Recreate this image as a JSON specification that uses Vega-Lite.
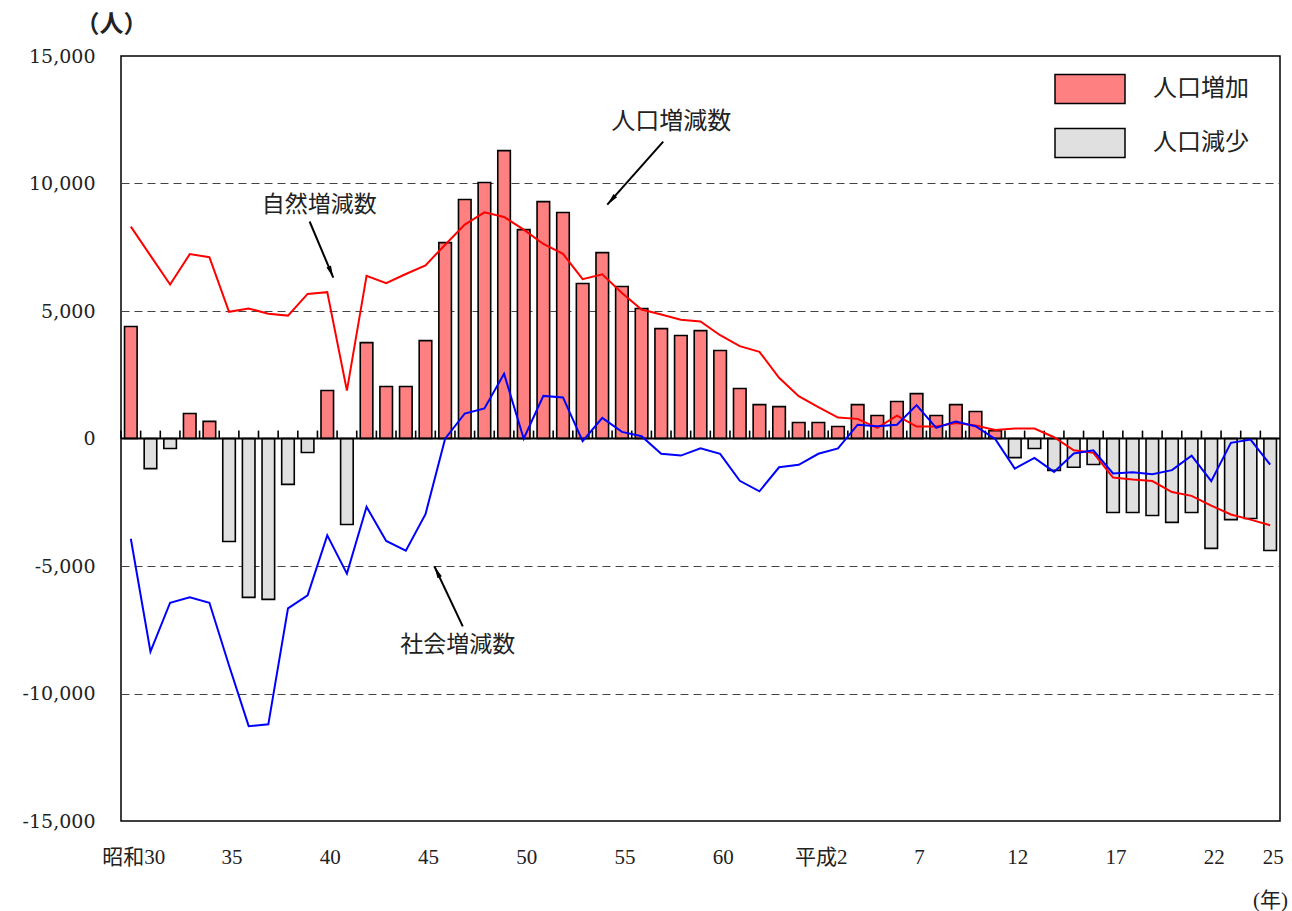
{
  "$schema": "https://vega.github.io/schema/vega-lite/v6.json",
  "width": 1159,
  "height": 765,
  "autosize": "none",
  "padding": {"left": 121, "top": 56, "right": 12, "bottom": 90},
  "background": "white",
  "config": {
    "view": {"stroke": "black", "strokeWidth": 1.5},
    "font": "Liberation Serif, Noto Sans CJK JP",
    "text": {"font": "Noto Sans CJK JP"}
  },
  "datasets": {
    "pop": [
      {"year": 1955, "total": 4390, "natural": 8310, "social": -3930, "sign": "人口増加"},
      {"year": 1956, "total": -1180, "natural": 7170, "social": -8360, "sign": "人口減少"},
      {"year": 1957, "total": -390, "natural": 6040, "social": -6440, "sign": "人口減少"},
      {"year": 1958, "total": 980, "natural": 7230, "social": -6230, "sign": "人口増加"},
      {"year": 1959, "total": 670, "natural": 7110, "social": -6440, "sign": "人口増加"},
      {"year": 1960, "total": -4040, "natural": 4970, "social": -8900, "sign": "人口減少"},
      {"year": 1961, "total": -6230, "natural": 5100, "social": -11280, "sign": "人口減少"},
      {"year": 1962, "total": -6310, "natural": 4890, "social": -11210, "sign": "人口減少"},
      {"year": 1963, "total": -1800, "natural": 4820, "social": -6660, "sign": "人口減少"},
      {"year": 1964, "total": -550, "natural": 5670, "social": -6150, "sign": "人口減少"},
      {"year": 1965, "total": 1880, "natural": 5740, "social": -3800, "sign": "人口増加"},
      {"year": 1966, "total": -3370, "natural": 1880, "social": -5300, "sign": "人口減少"},
      {"year": 1967, "total": 3760, "natural": 6380, "social": -2680, "sign": "人口増加"},
      {"year": 1968, "total": 2040, "natural": 6090, "social": -4020, "sign": "人口増加"},
      {"year": 1969, "total": 2040, "natural": 6450, "social": -4400, "sign": "人口増加"},
      {"year": 1970, "total": 3840, "natural": 6790, "social": -2970, "sign": "人口増加"},
      {"year": 1971, "total": 7680, "natural": 7600, "social": -10, "sign": "人口増加"},
      {"year": 1972, "total": 9370, "natural": 8390, "social": 980, "sign": "人口増加"},
      {"year": 1973, "total": 10040, "natural": 8870, "social": 1180, "sign": "人口増加"},
      {"year": 1974, "total": 11290, "natural": 8690, "social": 2540, "sign": "人口増加"},
      {"year": 1975, "total": 8190, "natural": 8190, "social": -10, "sign": "人口増加"},
      {"year": 1976, "total": 9290, "natural": 7630, "social": 1670, "sign": "人口増加"},
      {"year": 1977, "total": 8860, "natural": 7240, "social": 1610, "sign": "人口増加"},
      {"year": 1978, "total": 6080, "natural": 6250, "social": -100, "sign": "人口増加"},
      {"year": 1979, "total": 7290, "natural": 6440, "social": 810, "sign": "人口増加"},
      {"year": 1980, "total": 5960, "natural": 5710, "social": 260, "sign": "人口増加"},
      {"year": 1981, "total": 5100, "natural": 5060, "social": 90, "sign": "人口増加"},
      {"year": 1982, "total": 4310, "natural": 4860, "social": -600, "sign": "人口増加"},
      {"year": 1983, "total": 4040, "natural": 4660, "social": -670, "sign": "人口増加"},
      {"year": 1984, "total": 4230, "natural": 4590, "social": -380, "sign": "人口増加"},
      {"year": 1985, "total": 3450, "natural": 4050, "social": -600, "sign": "人口増加"},
      {"year": 1986, "total": 1960, "natural": 3620, "social": -1660, "sign": "人口増加"},
      {"year": 1987, "total": 1330, "natural": 3400, "social": -2070, "sign": "人口増加"},
      {"year": 1988, "total": 1250, "natural": 2380, "social": -1130, "sign": "人口増加"},
      {"year": 1989, "total": 630, "natural": 1660, "social": -1030, "sign": "人口増加"},
      {"year": 1990, "total": 630, "natural": 1230, "social": -600, "sign": "人口増加"},
      {"year": 1991, "total": 470, "natural": 820, "social": -390, "sign": "人口増加"},
      {"year": 1992, "total": 1330, "natural": 770, "social": 540, "sign": "人口増加"},
      {"year": 1993, "total": 900, "natural": 420, "social": 480, "sign": "人口増加"},
      {"year": 1994, "total": 1450, "natural": 900, "social": 540, "sign": "人口増加"},
      {"year": 1995, "total": 1760, "natural": 470, "social": 1310, "sign": "人口増加"},
      {"year": 1996, "total": 900, "natural": 470, "social": 420, "sign": "人口増加"},
      {"year": 1997, "total": 1330, "natural": 610, "social": 670, "sign": "人口増加"},
      {"year": 1998, "total": 1060, "natural": 510, "social": 480, "sign": "人口増加"},
      {"year": 1999, "total": 310, "natural": 330, "social": -20, "sign": "人口増加"},
      {"year": 2000, "total": -750, "natural": 390, "social": -1180, "sign": "人口減少"},
      {"year": 2001, "total": -390, "natural": 390, "social": -760, "sign": "人口減少"},
      {"year": 2002, "total": -1250, "natural": 50, "social": -1310, "sign": "人口減少"},
      {"year": 2003, "total": -1130, "natural": -460, "social": -590, "sign": "人口減少"},
      {"year": 2004, "total": -1020, "natural": -560, "social": -460, "sign": "人口減少"},
      {"year": 2005, "total": -2900, "natural": -1530, "social": -1370, "sign": "人口減少"},
      {"year": 2006, "total": -2900, "natural": -1610, "social": -1320, "sign": "人口減少"},
      {"year": 2007, "total": -3020, "natural": -1670, "social": -1400, "sign": "人口減少"},
      {"year": 2008, "total": -3290, "natural": -2100, "social": -1240, "sign": "人口減少"},
      {"year": 2009, "total": -2900, "natural": -2250, "social": -670, "sign": "人口減少"},
      {"year": 2010, "total": -4310, "natural": -2630, "social": -1670, "sign": "人口減少"},
      {"year": 2011, "total": -3180, "natural": -2980, "social": -170, "sign": "人口減少"},
      {"year": 2012, "total": -3140, "natural": -3180, "social": -40, "sign": "人口減少"},
      {"year": 2013, "total": -4390, "natural": -3400, "social": -1020, "sign": "人口減少"}
    ]
  },
  "resolve": {"scale": {"x": "shared", "y": "shared"}},
  "layer": [
    {
      "data": {"name": "pop"},
      "mark": {"type": "bar", "width": {"band": 0.64}, "stroke": "black", "strokeWidth": 1.6},
      "encoding": {
        "x": {
          "field": "year", "type": "ordinal",
          "scale": {"paddingInner": 0, "paddingOuter": 0},
          "axis": {
            "values": [1955, 1960, 1965, 1970, 1975, 1980, 1985, 1990, 1995, 2000, 2005, 2010, 2013],
            "labelExpr": "datum.value == 1955 ? '昭和30' : datum.value == 1990 ? '平成2' : datum.value < 1989 ? '' + (datum.value - 1925) : '' + (datum.value - 1988)",
            "labelAngle": 0,
            "labelFont": "Liberation Serif, Noto Sans CJK JP",
            "labelFontSize": 21,
            "labelColor": "#222",
            "labelPadding": 25,
            "labelOffset": 3,
            "domain": false,
            "ticks": false,
            "grid": false,
            "title": "(年)",
            "titleFont": "Liberation Serif, Noto Sans CJK JP",
            "titleFontSize": 21,
            "titleFontWeight": "normal",
            "titleColor": "#222",
            "titleX": 1149,
            "titleY": 79,
            "titleAlign": "center",
            "titleBaseline": "middle"
          }
        },
        "y": {
          "field": "total", "type": "quantitative",
          "scale": {"domain": [-15000, 15000], "nice": false, "zero": false},
          "axis": {
            "values": [-15000, -10000, -5000, 0, 5000, 10000, 15000],
            "labelExpr": "replace(format(datum.value, ','), '\u2212', '-')",
            "labelFont": "DejaVu Serif",
            "labelFontSize": 19,
            "labelColor": "#222",
            "labelPadding": 26,
            "domain": false,
            "ticks": false,
            "grid": true,
            "gridDash": [8, 5],
            "gridColor": "#444",
            "gridWidth": 1,
            "gridOpacity": {"condition": {"test": "abs(datum.value) >= 15000 || datum.value == 0", "value": 0}, "value": 1},
            "title": "（人）",
            "titleAngle": 0,
            "titleFont": "Noto Sans CJK JP",
            "titleFontSize": 24,
            "titleFontWeight": "bold",
            "titleColor": "#222",
            "titleX": -10,
            "titleY": -32,
            "titleAlign": "center",
            "titleBaseline": "middle"
          }
        },
        "color": {
          "field": "sign", "type": "nominal",
          "scale": {"domain": ["人口増加", "人口減少"], "range": ["#FF8080", "#E0E0E0"]},
          "legend": {
            "title": null,
            "orient": "none",
            "legendX": 933,
            "legendY": -3,
            "direction": "vertical",
            "symbolType": "M-1,-0.414H1V0.414H-1Z",
            "symbolSize": 4900,
            "symbolStrokeColor": "black",
            "symbolStrokeWidth": 1.5,
            "symbolOpacity": 1,
            "labelFont": "Noto Sans CJK JP",
            "labelFontSize": 24,
            "labelColor": "#222",
            "labelOffset": 27,
            "rowPadding": -16,
            "padding": 0
          }
        }
      }
    },
    {
      "data": {"name": "pop"},
      "mark": {"type": "rule", "color": "black", "strokeWidth": 1.6},
      "encoding": {
        "x": {"field": "year", "type": "ordinal", "bandPosition": 0},
        "y": {"datum": 310},
        "y2": {"datum": 0}
      }
    },
    {
      "data": {"values": [{}]},
      "mark": {"type": "rule", "color": "black", "strokeWidth": 2.2},
      "encoding": {"y": {"datum": 0}}
    },
    {
      "data": {"name": "pop"},
      "mark": {"type": "line", "color": "#FF0000", "strokeWidth": 2},
      "encoding": {
        "x": {"field": "year", "type": "ordinal"},
        "y": {"field": "natural", "type": "quantitative"}
      }
    },
    {
      "data": {"name": "pop"},
      "mark": {"type": "line", "color": "#0000FF", "strokeWidth": 2},
      "encoding": {
        "x": {"field": "year", "type": "ordinal"},
        "y": {"field": "social", "type": "quantitative"}
      }
    },
    {
      "data": {"values": [{"year": 1982, "value": 12430, "label": "人口増減数"}]},
      "mark": {"type": "text", "font": "Noto Sans CJK JP", "fontSize": 24, "color": "#222", "dx": 10, "baseline": "middle", "align": "center"},
      "encoding": {
        "x": {"field": "year", "type": "ordinal"},
        "y": {"field": "value", "type": "quantitative"},
        "text": {"field": "label"}
      }
    },
    {
      "data": {"values": [{"year": 1965, "value": 9170, "label": "自然増減数"}]},
      "mark": {"type": "text", "font": "Noto Sans CJK JP", "fontSize": 23, "color": "#222", "dx": -8, "baseline": "middle", "align": "center"},
      "encoding": {
        "x": {"field": "year", "type": "ordinal"},
        "y": {"field": "value", "type": "quantitative"},
        "text": {"field": "label"}
      }
    },
    {
      "data": {"values": [{"year": 1972, "value": -8110, "label": "社会増減数"}]},
      "mark": {"type": "text", "font": "Noto Sans CJK JP", "fontSize": 23, "color": "#222", "dx": -7, "baseline": "middle", "align": "center"},
      "encoding": {
        "x": {"field": "year", "type": "ordinal"},
        "y": {"field": "value", "type": "quantitative"},
        "text": {"field": "label"}
      }
    },
    {
      "data": {"values": [{"x1": 1982, "y1": 11640, "x2": 1979, "y2": 9170}]},
      "layer": [
        {
          "mark": {"type": "rule", "color": "black", "strokeWidth": 2, "xOffset": 2, "x2Offset": 5},
          "encoding": {
            "x": {"field": "x1", "type": "ordinal"},
            "x2": {"field": "x2"},
            "y": {"field": "y1", "type": "quantitative"},
            "y2": {"field": "y2"}
          }
        },
        {
          "mark": {"type": "point", "shape": "M0,0L0.4,2L-0.4,2Z", "filled": true, "color": "black", "opacity": 1, "size": 144, "angle": 221.6, "xOffset": 5},
          "encoding": {
            "x": {"field": "x2", "type": "ordinal"},
            "y": {"field": "y2", "type": "quantitative"}
          }
        }
      ]
    },
    {
      "data": {"values": [{"x1": 1964, "y1": 8510, "x2": 1965, "y2": 6310}]},
      "layer": [
        {
          "mark": {"type": "rule", "color": "black", "strokeWidth": 2, "xOffset": 2, "x2Offset": 6},
          "encoding": {
            "x": {"field": "x1", "type": "ordinal"},
            "x2": {"field": "x2"},
            "y": {"field": "y1", "type": "quantitative"},
            "y2": {"field": "y2"}
          }
        },
        {
          "mark": {"type": "point", "shape": "M0,0L0.4,2L-0.4,2Z", "filled": true, "color": "black", "opacity": 1, "size": 144, "angle": 157.7, "xOffset": 6},
          "encoding": {
            "x": {"field": "x2", "type": "ordinal"},
            "y": {"field": "y2", "type": "quantitative"}
          }
        }
      ]
    },
    {
      "data": {"values": [{"x1": 1972, "y1": -7370, "x2": 1970, "y2": -5020}]},
      "layer": [
        {
          "mark": {"type": "rule", "color": "black", "strokeWidth": 2, "xOffset": -2, "x2Offset": 9},
          "encoding": {
            "x": {"field": "x1", "type": "ordinal"},
            "x2": {"field": "x2"},
            "y": {"field": "y1", "type": "quantitative"},
            "y2": {"field": "y2"}
          }
        },
        {
          "mark": {"type": "point", "shape": "M0,0L0.4,2L-0.4,2Z", "filled": true, "color": "black", "opacity": 1, "size": 144, "angle": 334.2, "xOffset": 9},
          "encoding": {
            "x": {"field": "x2", "type": "ordinal"},
            "y": {"field": "y2", "type": "quantitative"}
          }
        }
      ]
    }
  ]
}
